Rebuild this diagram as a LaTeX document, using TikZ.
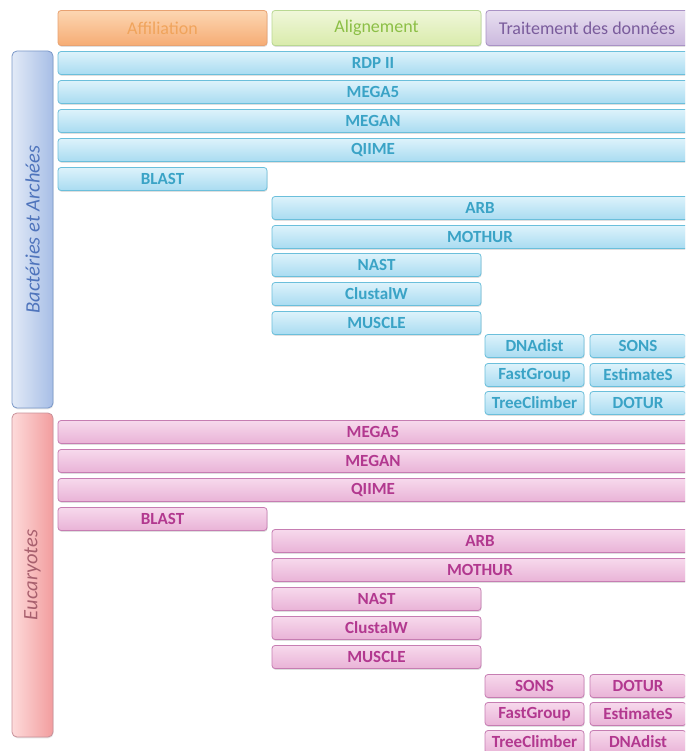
\documentclass[tikz,border=0pt]{standalone}
\usepackage{fontspec}
\setmainfont{Carlito}
\usetikzlibrary{shadows}
\definecolor{bactop}{HTML}{DDF2FB}
\definecolor{bacbot}{HTML}{A9DCF1}
\definecolor{bacdraw}{HTML}{6BBFDB}
\definecolor{bactext}{HTML}{3AA3C6}
\definecolor{euktop}{HTML}{F7D9EC}
\definecolor{eukbot}{HTML}{E9B3D7}
\definecolor{eukdraw}{HTML}{C67DB2}
\definecolor{euktext}{HTML}{B2388F}
\definecolor{afftop}{HTML}{FCD6B2}
\definecolor{affbot}{HTML}{F6AC74}
\definecolor{affdraw}{HTML}{E8A272}
\definecolor{afftext}{HTML}{F0A45C}
\definecolor{alitop}{HTML}{F0F7DA}
\definecolor{alibot}{HTML}{D9EBAB}
\definecolor{alidraw}{HTML}{B9D893}
\definecolor{alitext}{HTML}{8CBF46}
\definecolor{trttop}{HTML}{E8DFF0}
\definecolor{trtbot}{HTML}{CBB9DE}
\definecolor{trtdraw}{HTML}{A992C5}
\definecolor{trttext}{HTML}{7A5C9C}
\definecolor{lbbl}{HTML}{E2EAF7}
\definecolor{lbbr}{HTML}{A7BEE6}
\definecolor{lbbdraw}{HTML}{7A98C8}
\definecolor{lbbtext}{HTML}{4F74BC}
\definecolor{lbel}{HTML}{FDDADA}
\definecolor{lber}{HTML}{F29D9E}
\definecolor{lbedraw}{HTML}{C8919A}
\definecolor{lbetext}{HTML}{A8606E}
\begin{document}
\begin{tikzpicture}[x=1pt,y=-1pt,
  base/.style={rounded corners=3pt, minimum height=23pt, inner sep=0pt, line width=0.8pt,
    font=\fontsize{17}{17}\selectfont\bfseries,
    drop shadow={shadow xshift=0.5pt,shadow yshift=-1.3pt,opacity=0.25}},
  bac/.style={base, draw=bacdraw, top color=bactop, bottom color=bacbot, text=bactext},
  euk/.style={base, draw=eukdraw, top color=euktop, bottom color=eukbot, text=euktext},
  hdr/.style={base, minimum height=35pt, font=\fontsize{18}{18}\selectfont},
  wide/.style={minimum width=630pt},
  half/.style={minimum width=209pt},
  long/.style={minimum width=416pt},
  smallL/.style={minimum width=99pt},
  smallR/.style={minimum width=96pt},
  lbl/.style={rounded corners=5pt, line width=0.8pt, inner sep=0pt, minimum width=41pt,
    drop shadow={shadow xshift=0.5pt,shadow yshift=-1.3pt,opacity=0.2}},
  lbltext/.style={rotate=90, font=\fontsize{20.5}{20.5}\selectfont\itshape}
]
\useasboundingbox (0,0) rectangle (685,751);
\clip (0,0) rectangle (685,751);
% headers
\node[hdr, half, draw=affdraw, top color=afftop, bottom color=affbot, text=afftext] (aff) at (162.5,28) {Affiliation};
\node[hdr, half, draw=alidraw, top color=alitop, bottom color=alibot, text=alitext] (ali) at (376.5,28) {Alignement};
\node[hdr, minimum width=202pt, draw=trtdraw, top color=trttop, bottom color=trtbot, text=trttext] (trt) at (587,28) {Traitement des données};
% side labels
\node[lbl, minimum height=357pt, draw=lbbdraw, left color=lbbl, right color=lbbr] (lbb) at (32.5,229.5) {};
\node[lbltext, text=lbbtext] (lbbt) at (lbb.center) {Bactéries et Archées};
\node[lbl, minimum height=324pt, draw=lbedraw, left color=lbel, right color=lber] (lbe) at (32.5,575) {};
\node[lbltext, text=lbetext] (lbet) at (lbe.center) {Eucaryotes};
% Bacteria and Archaea
\node[bac, wide] (b1) at (373,63) {RDP II};
\node[bac, wide] (b2) at (373,92) {MEGA5};
\node[bac, wide] (b3) at (373,121) {MEGAN};
\node[bac, wide] (b4) at (373,150) {QIIME};
\node[bac, half] (b5) at (162.5,179) {BLAST};
\node[bac, long] (b6) at (480,208) {ARB};
\node[bac, long] (b7) at (480,237) {MOTHUR};
\node[bac, half] (b8) at (376.5,265) {NAST};
\node[bac, half] (b9) at (376.5,294) {ClustalW};
\node[bac, half] (b10) at (376.5,323) {MUSCLE};
\node[bac, smallL] (b11) at (534.5,346) {DNAdist};
\node[bac, smallR] (b12) at (638,346) {SONS};
\node[bac, smallL] (b13) at (534.5,375) {FastGroup};
\node[bac, smallR] (b14) at (638,375) {EstimateS};
\node[bac, smallL] (b15) at (534.5,403) {TreeClimber};
\node[bac, smallR] (b16) at (638,403) {DOTUR};
% Eukaryotes
\node[euk, wide] (e1) at (373,432) {MEGA5};
\node[euk, wide] (e2) at (373,461) {MEGAN};
\node[euk, wide] (e3) at (373,490) {QIIME};
\node[euk, half] (e4) at (162.5,519) {BLAST};
\node[euk, long] (e5) at (480,541) {ARB};
\node[euk, long] (e6) at (480,570) {MOTHUR};
\node[euk, half] (e7) at (376.5,599) {NAST};
\node[euk, half] (e8) at (376.5,628) {ClustalW};
\node[euk, half] (e9) at (376.5,657) {MUSCLE};
\node[euk, smallL] (e10) at (534.5,686) {SONS};
\node[euk, smallR] (e11) at (638,686) {DOTUR};
\node[euk, smallL] (e12) at (534.5,714) {FastGroup};
\node[euk, smallR] (e13) at (638,714) {EstimateS};
\node[euk, smallL] (e14) at (534.5,742) {TreeClimber};
\node[euk, smallR] (e15) at (638,742) {DNAdist};
\end{tikzpicture}
\end{document}
